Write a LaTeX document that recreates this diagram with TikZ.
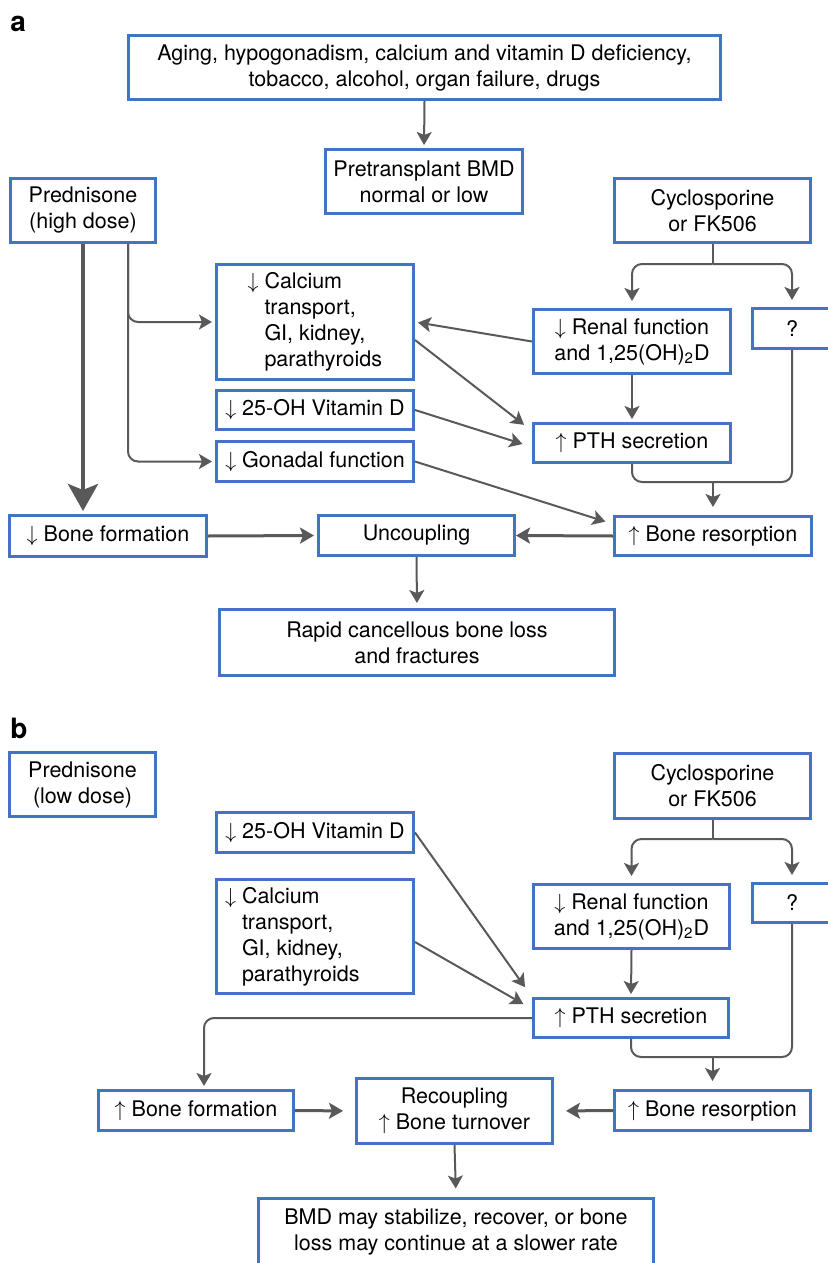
\documentclass[tikz,border=0pt]{standalone}
\usepackage{fontspec}
\setmainfont{TeX Gyre Heros}
\usetikzlibrary{arrows.meta}
\definecolor{boxblue}{RGB}{68,114,196}
\definecolor{arrowgray}{RGB}{89,89,89}

\begin{document}
\begin{tikzpicture}[x=.5pt,y=-.5pt,
box/.style={draw=boxblue,line width=1.5pt,fill=white,align=center,inner sep=0pt,
  font=\fontsize{10.75pt}{13pt}\selectfont},
panel/.style={anchor=base west,inner sep=0pt,font=\fontsize{14pt}{16pt}\selectfont\bfseries},
wire/.style={draw=arrowgray,line width=1pt},
link/.style={wire,-{Stealth[length=6.5pt,width=7.5pt,inset=1.5pt]},shorten >=1.5pt},
heavy/.style={link,line width=1.5pt,-{Stealth[length=7pt,width=8pt,inset=1.5pt]}}]

\useasboundingbox (0,0) rectangle (828,1263);

% Panel a
\node[panel] (labA) at (10,32) {a};

\node[box,minimum width=296pt,minimum height=32pt] (causes) at (424.5,67.5)
{Aging, hypogonadism, calcium and vitamin D deficiency,\\tobacco, alcohol, organ failure, drugs};
\node[box,minimum width=98.5pt,minimum height=32pt] (bmdA) at (424,181.5) {Pretransplant BMD\\normal or low};
\node[box,minimum width=72.5pt,minimum height=32pt] (predA) at (83,210.5) {Prednisone\\(high dose)};
\node[box,minimum width=98pt,minimum height=32pt] (cycA) at (712.5,210.5) {Cyclosporine\\or FK506};

\node[box,minimum width=98.5pt,minimum height=57.5pt] (calA) at (315,322)
{\parbox{98.5pt}{\leftskip=24pt\leavevmode\llap{$\downarrow$ }Calcium\\transport,\\GI, kidney,\\parathyroids}};
\node[box,minimum width=98.5pt,minimum height=19.5pt] (vitA) at (315,410) {$\downarrow$ 25-OH Vitamin D};
\node[box,minimum width=98.5pt,minimum height=20pt] (gonA) at (315,461.5) {$\downarrow$ Gonadal function};

\node[box,minimum width=98.5pt,minimum height=32pt] (renA) at (632,341.5) {$\downarrow$ Renal function\\and 1,25(OH)\textsubscript{2}D};
\node[box,minimum width=39.5pt,minimum height=20pt] (qA) at (792,328.5) {?};
\node[box,minimum width=98.5pt,minimum height=19.5pt] (pthA) at (632,443) {$\uparrow$ PTH secretion};

\node[box,minimum width=98.5pt,minimum height=20.5pt] (boneA) at (108,536) {$\downarrow$ Bone formation};
\node[box,minimum width=98pt,minimum height=20pt] (uncA) at (416.5,535.5) {Uncoupling};
\node[box,minimum width=98.5pt,minimum height=19.5pt] (resA) at (713,536) {$\uparrow$ Bone resorption};
\node[box,minimum width=197.5pt,minimum height=33pt] (lossA) at (417,642.5) {Rapid cancellous bone loss\\and fractures};

\draw[link] (causes.south) -- (bmdA.north);
\draw[link,line width=2.25pt,-{Stealth[length=13.5pt,width=15pt,inset=3pt]}] (predA.south) -- (predA.south |- boneA.north);
\coordinate (predA-branch) at ([xshift=22.5pt]predA.south);
\draw[link,rounded corners=5pt] (predA-branch) |- (calA.west);
\draw[link,rounded corners=5pt] (predA-branch) |- (gonA.west);

\draw[wire] (cycA.south) -- ++(0,20) coordinate (cycA-split);
\draw[link,rounded corners=5pt,shorten >=3.5pt] (cycA-split) -| (renA.north);
\draw[link,rounded corners=5pt,shorten >=3.5pt] (cycA-split) -| (qA.north);
\draw[link] (renA.west) -- (calA.east);
\draw[link,shorten >=5pt] ([yshift=-9pt]calA.east) -- ([yshift=6pt]pthA.west);
\draw[link,shorten >=5pt] (vitA.east) -- ([yshift=-2pt]pthA.west);
\draw[link] (renA.south) -- (pthA.north);
\draw[wire,rounded corners=5pt] (pthA.south) -- ++(0,18) coordinate (pthA-join) -| (qA.south);
\draw[link,shorten >=4pt] (resA.north |- pthA-join) -- (resA.north);
\draw[link,shorten >=4pt] (gonA.east) -- ([yshift=6pt]resA.west);

\draw[heavy] (boneA.east) -- (uncA.west);
\draw[heavy,shorten >=0pt] (resA.west) -- (uncA.east);
\draw[link,shorten >=2.5pt] (uncA.south) -- (lossA.north);

% Panel b
\node[panel] (labB) at (10,738) {b};

\node[box,minimum width=73pt,minimum height=32pt] (predB) at (82.5,784.5) {Prednisone\\(low dose)};
\node[box,minimum width=98pt,minimum height=32.5pt] (cycB) at (712.5,786) {Cyclosporine\\or FK506};

\node[box,minimum width=98.5pt,minimum height=20pt] (vitB) at (315,832.5) {$\downarrow$ 25-OH Vitamin D};
\node[box,minimum width=98.5pt,minimum height=57pt] (calB) at (315,936.5)
{\parbox{98.5pt}{\leftskip=12.75pt\leavevmode\llap{$\downarrow$ }Calcium\\transport,\\GI, kidney,\\parathyroids}};

\node[box,minimum width=98pt,minimum height=32pt] (renB) at (631.5,916.5) {$\downarrow$ Renal function\\and 1,25(OH)\textsubscript{2}D};
\node[box,minimum width=40pt,minimum height=19.5pt] (qB) at (792,903) {?};
\node[box,minimum width=97.5pt,minimum height=19.5pt] (pthB) at (631,1018) {$\uparrow$ PTH secretion};

\node[box,minimum width=97.5pt,minimum height=20pt] (boneB) at (196,1110.5) {$\uparrow$ Bone formation};
\node[box,minimum width=98pt,minimum height=32.5pt] (recB) at (454.5,1111) {Recoupling\\$\uparrow$ Bone turnover};
\node[box,minimum width=98pt,minimum height=20pt] (resB) at (712.5,1110.5) {$\uparrow$ Bone resorption};
\node[box,minimum width=197.5pt,minimum height=34pt] (bmdB) at (456,1232) {BMD may stabilize, recover, or bone\\loss may continue at a slower rate};

\draw[wire] (cycB.south) -- ++(0,19) coordinate (cycB-split);
\draw[link,rounded corners=5pt,shorten >=3.5pt] (cycB-split) -| (renB.north);
\draw[link,rounded corners=5pt,shorten >=3.5pt] (cycB-split) -| (qB.north);
\draw[link,shorten >=6pt] (vitB.east) -- (pthB.north west);
\draw[link,shorten >=5pt] ([yshift=-2.75pt]calB.east) -- ([yshift=4.5pt]pthB.west);
\draw[link] (renB.south) -- (pthB.north);
\draw[link,rounded corners=5pt] (pthB.west) -| ([xshift=4pt]boneB.north);
\draw[wire,rounded corners=5pt] (pthB.south) -- ++(0,18) coordinate (pthB-join) -| (qB.south);
\draw[link,shorten >=4pt] (resB.north |- pthB-join) -- (resB.north);

\draw[heavy,shorten >=6pt] (boneB.east) -- (recB.west);
\draw[heavy,shorten >=6pt] (resB.west) -- (recB.east);
\draw[link,shorten >=4pt] (recB.south) -- (bmdB.north);

\end{tikzpicture}
\end{document}
